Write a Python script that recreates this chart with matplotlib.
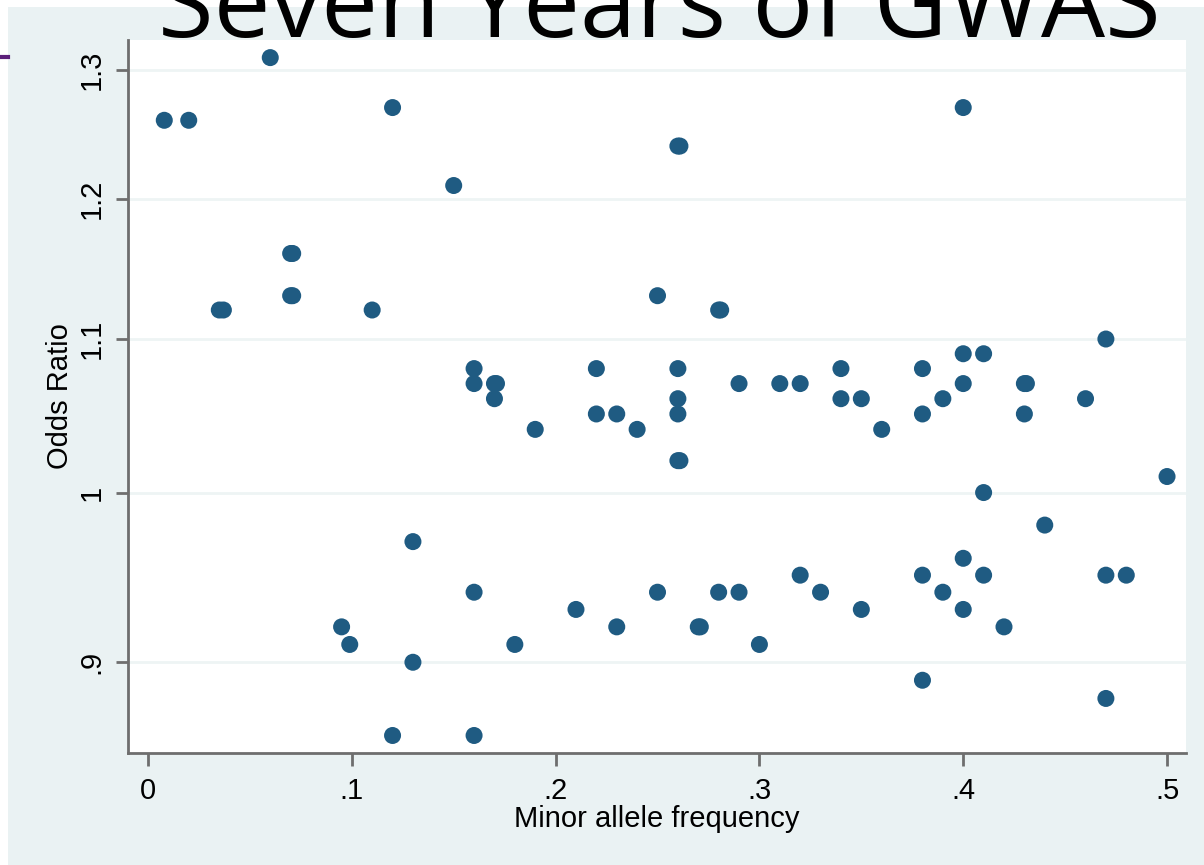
# scatter of odds ratio vs minor allele frequency (GWAS hits)
import numpy as np
import matplotlib
matplotlib.use("Agg")
import matplotlib.pyplot as plt
from matplotlib.patches import Rectangle
from matplotlib.lines import Line2D
from matplotlib.ticker import FixedLocator, FixedFormatter, NullLocator

maf = [0.008, 0.02, 0.035, 0.037, 0.06, 0.07, 0.071, 0.07, 0.071, 0.12, 0.11, 0.15,
       0.16, 0.16, 0.17, 0.171, 0.17, 0.19, 0.22, 0.22, 0.23, 0.24, 0.25,
       0.26, 0.261, 0.26, 0.26, 0.26, 0.26, 0.261, 0.28, 0.281, 0.29, 0.31, 0.32,
       0.34, 0.34, 0.35, 0.36, 0.38, 0.38, 0.39, 0.40, 0.40, 0.40, 0.41,
       0.43, 0.431, 0.43, 0.46, 0.47, 0.50, 0.41, 0.44,
       0.13, 0.095, 0.099, 0.13, 0.12, 0.16, 0.16, 0.18, 0.21, 0.23, 0.25,
       0.27, 0.271, 0.28, 0.29, 0.30, 0.32, 0.33, 0.35, 0.38, 0.38, 0.39, 0.40,
       0.40, 0.41, 0.42, 0.47, 0.48, 0.47]
odds = [1.26, 1.26, 1.12, 1.12, 1.31, 1.16, 1.16, 1.13, 1.13, 1.27, 1.12, 1.21,
        1.08, 1.07, 1.07, 1.07, 1.06, 1.04, 1.08, 1.05, 1.05, 1.04, 1.13,
        1.24, 1.24, 1.08, 1.06, 1.05, 1.02, 1.02, 1.12, 1.12, 1.07, 1.07, 1.07,
        1.08, 1.06, 1.06, 1.04, 1.08, 1.05, 1.06, 1.27, 1.09, 1.07, 1.09,
        1.07, 1.07, 1.05, 1.06, 1.10, 1.01, 1.00, 0.98,
        0.97, 0.92, 0.91, 0.90, 0.86, 0.86, 0.94, 0.91, 0.93, 0.92, 0.94,
        0.92, 0.92, 0.94, 0.94, 0.91, 0.95, 0.94, 0.93, 0.95, 0.89, 0.94, 0.96,
        0.93, 0.95, 0.92, 0.95, 0.95, 0.88]

y_ticks = [0.9, 1.0, 1.1, 1.2, 1.3]
y_labels = [".9", "1", "1.1", "1.2", "1.3"]
x_ticks = [0, 0.1, 0.2, 0.3, 0.4, 0.5]
x_labels = ["0", ".1", ".2", ".3", ".4", ".5"]

plt.rcParams['font.family'] = ['Liberation Sans', 'DejaVu Sans']

fig = plt.figure(figsize=(12.04, 8.65), dpi=100)
fig.patch.set_facecolor('white')

# light stata-style panel behind the plot
panel = Rectangle((8 / 1204, 0), 1, 1 - 7 / 865, transform=fig.transFigure,
                  facecolor='#eaf2f3', edgecolor='none', zorder=-5)
fig.add_artist(panel)
# little purple mark from the slide
fig.add_artist(Line2D([0, 8 / 1204], [1 - 57 / 865, 1 - 57 / 865], transform=fig.transFigure,
                      color='#5b1f7a', linewidth=3))

ax = fig.add_axes([128 / 1204, 1 - 753 / 865, (1186 - 128) / 1204, (753 - 40) / 865])
ax.set_zorder(1)
ax.set_facecolor('white')
ax.scatter(maf, odds, s=150, color='#1f5b82', edgecolors='none', zorder=3)

ax.set_yscale('log')
ax.set_ylim(0.8507, 1.3244)
ax.set_xlim(-0.0098, 0.5093)

ax.yaxis.set_major_locator(FixedLocator(y_ticks))
ax.yaxis.set_major_formatter(FixedFormatter(y_labels))
ax.yaxis.set_minor_locator(NullLocator())
ax.set_xticks(x_ticks)
ax.set_xticklabels(x_labels)

ax.grid(axis='y', color='#eef4f4', linewidth=2)
ax.set_axisbelow(True)

for side in ['top', 'right']:
    ax.spines[side].set_visible(False)
for side in ['left', 'bottom']:
    ax.spines[side].set_color('#6e6e6e')
    ax.spines[side].set_linewidth(2)

ax.tick_params(axis='both', colors='#6e6e6e', width=2, length=9, labelsize=21,
               labelcolor='black')
ax.tick_params(axis='x', pad=8)
ax.tick_params(axis='y', pad=7)
for lbl in ax.get_yticklabels():
    lbl.set_rotation(90)
    lbl.set_va('center')

ax.set_xlabel('Minor allele frequency', fontsize=21, labelpad=0)
ax.set_ylabel('Odds Ratio', fontsize=21, labelpad=3)

fig.text(0.548, 1 - 37 / 865, 'Seven Years of GWAS', fontsize=73, family='Open Sans',
         ha='center', va='baseline', color='black', zorder=10)

fig.savefig('out.png', dpi=100)
